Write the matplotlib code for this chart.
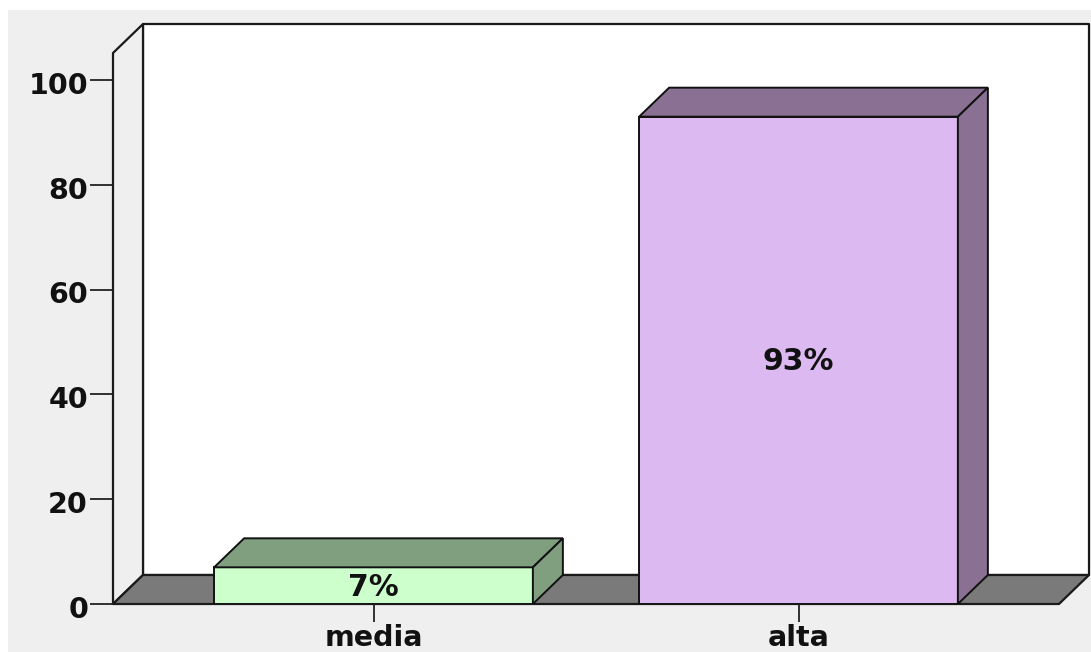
import matplotlib
matplotlib.use('Agg')
import matplotlib.pyplot as plt
from matplotlib.patches import Polygon, Rectangle
from matplotlib.transforms import ScaledTranslation

# Chart values
categories = ['media', 'alta']
percentages = [7, 93]
y_ticks = [0, 20, 40, 60, 80, 100]
face_colors = ['#CCFFCC', '#DDB9F2']
shade_colors = ['#7F9F7F', '#8A7194']

W, H = 1091, 652
fig = plt.figure(figsize=(W / 100, H / 100), dpi=100, facecolor='white')

# Gray panel behind the plot, a thin white margin stays on the top and left
fig.add_artist(Rectangle((8 / W, 0), 1 - 8 / W, 1 - 10 / H, transform=fig.transFigure,
                         facecolor='#EFEFEF', edgecolor='none', zorder=-1))

# Axes box runs from the front-left floor corner to the back-right top corner
ax = fig.add_axes([113 / W, 1 - 604 / H, (1089 - 113) / W, (604 - 24) / H])
ax.patch.set_alpha(0)
ax.set_xlim((113 - 373.5) / 425, (1089 - 373.5) / 425)
ax.set_ylim(0, 580 / 5.24)
for spine in ax.spines.values():
    spine.set_visible(False)

# Depth of the 3D effect in data units
dx = 30 / 425
dy = 29 / 5.24
x0, x1 = ax.get_xlim()
y1 = ax.get_ylim()[1]
x_front = x1 - dx
y_front = y1 - dy
wall = dict(edgecolor='#1A1A1A', linewidth=1.6, joinstyle='round', clip_on=False)

# Back wall, left wall and floor
ax.add_patch(Polygon([(x0 + dx, dy), (x1, dy), (x1, y1), (x0 + dx, y1)], facecolor='white', **wall))
ax.add_patch(Polygon([(x0, 0), (x0 + dx, dy), (x0 + dx, y1), (x0, y_front)], facecolor='#EFEFEF', **wall))
ax.add_patch(Polygon([(x0, 0), (x_front, 0), (x1, dy), (x0 + dx, dy)], facecolor='#7A7A7A', **wall))

# Bars with their top and side faces
bar_width = 0.75
bars = ax.bar(range(len(categories)), percentages, width=bar_width, color=face_colors,
              edgecolor='#111111', linewidth=1.4, zorder=3)
for bar, value, shade in zip(bars, percentages, shade_colors):
    left = bar.get_x()
    right = left + bar.get_width()
    ax.add_patch(Polygon([(left, value), (right, value), (right + dx, value + dy), (left + dx, value + dy)],
                         facecolor=shade, edgecolor='#111111', linewidth=1.4, zorder=3))
    ax.add_patch(Polygon([(right, 0), (right + dx, dy), (right + dx, value + dy), (right, value)],
                         facecolor=shade, edgecolor='#111111', linewidth=1.4, zorder=3))
    ax.annotate('{}%'.format(value), (left + bar.get_width() / 2, value / 2), xytext=(0, -1),
                textcoords='offset points', ha='center', va='center',
                fontsize=21.5, fontweight='bold', color='#111111', zorder=4)

ax.set_yticks(y_ticks)
ax.set_xticks(range(len(categories)))
ax.set_xticklabels(categories)
ax.tick_params(axis='y', length=16.5, width=1.3, color='#222222', pad=1.5, labelsize=20.5, labelcolor='#111111')
ax.tick_params(axis='x', length=13, width=1.3, color='#222222', pad=1.5, labelsize=20.5, labelcolor='#111111')
for label in ax.get_xticklabels() + ax.get_yticklabels():
    label.set_fontweight('bold')

# Tick numbers sit a little below their tick marks
shift = ScaledTranslation(0, -2 / 72, fig.dpi_scale_trans)
for label in ax.get_yticklabels():
    label.set_transform(label.get_transform() + shift)

fig.savefig('out.png', dpi=100)
